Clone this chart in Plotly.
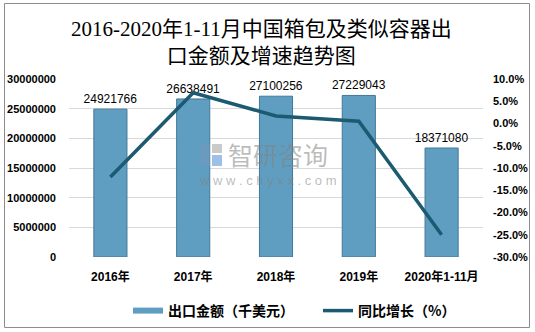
import plotly.graph_objects as go

# Export value (thousand USD) and year-on-year growth (%)
categories = ["2016年", "2017年", "2018年", "2019年", "2020年1-11月"]
export_value = [24921766, 26638491, 27100256, 27229043, 18371080]
yoy_growth = [-12.0, 6.9, 1.7, 0.5, -25.0]

left_ticks = [0, 5000000, 10000000, 15000000, 20000000, 25000000, 30000000]
right_ticks = [10, 5, 0, -5, -10, -15, -20, -25, -30]

W, H = 535, 332
ML, MR, MT, MB = 69, 52, 79, 75
PW, PH = W - ML - MR, H - MT - MB

BAR_COLOR = "#5f9ec0"
BAR_EDGE = "#40789a"
LINE_COLOR = "#1b5a70"
TICK_FONT = dict(family="Liberation Sans, Arial, sans-serif", size=11, color="#000000")
CJK = "Liberation Sans, Noto Sans CJK SC, sans-serif"


def px_x(v):
    return (v - ML) / PW


def px_y(v):
    return (H - MB - v) / PH


fig = go.Figure()

fig.add_trace(go.Bar(
    x=categories, y=export_value,
    marker=dict(color=BAR_COLOR, line=dict(color=BAR_EDGE, width=1)),
    width=0.4,
    text=[str(v) for v in export_value],
    textposition="outside",
    constraintext="none",
    textfont=dict(family="Liberation Sans, Arial, sans-serif", size=12, color="#000000"),
    cliponaxis=False,
    showlegend=False,
    name="出口金额（千美元）",
))

# legend swatch for the bars, drawn as a wide band
fig.add_trace(go.Scatter(
    x=[None], y=[None], mode="lines",
    line=dict(color=BAR_COLOR, width=6),
    name="<b>出口金额（千美元）</b>",
))

fig.add_trace(go.Scatter(
    x=categories, y=yoy_growth, yaxis="y2", mode="lines",
    line=dict(color=LINE_COLOR, width=3.5),
    name="<b>同比增长（%）</b>",
))

# watermark
fig.add_annotation(
    xref="paper", yref="paper", x=px_x(226), y=px_y(154), xanchor="left", yanchor="middle",
    text="智研咨询", showarrow=False,
    font=dict(family="Noto Sans CJK SC", size=25, color="rgba(130,130,130,0.55)"),
)
fig.add_annotation(
    xref="paper", yref="paper", x=px_x(268), y=px_y(180), xanchor="center", yanchor="middle",
    text="w w w . c h y x x . c o m", showarrow=False,
    font=dict(family="Liberation Sans, Arial", size=13, color="rgba(130,130,130,0.55)"),
)
fig.add_shape(type="rect", xref="paper", yref="paper",
              x0=px_x(200), x1=px_x(210), y0=px_y(166), y1=px_y(144),
              line=dict(width=0), fillcolor="rgba(120,150,190,0.5)")
fig.add_shape(type="rect", xref="paper", yref="paper",
              x0=px_x(212), x1=px_x(222), y0=px_y(166), y1=px_y(155),
              line=dict(width=0), fillcolor="rgba(80,140,210,0.55)")
fig.add_shape(type="rect", xref="paper", yref="paper",
              x0=px_x(212), x1=px_x(222), y0=px_y(153), y1=px_y(144),
              line=dict(width=0), fillcolor="rgba(150,150,150,0.5)")

# outer frame
fig.add_shape(type="rect", xref="paper", yref="paper",
              x0=px_x(4.5), x1=px_x(529.5), y0=px_y(327.5), y1=px_y(3.5),
              line=dict(color="#8c8c8c", width=1), layer="below")

# two-line title
fig.add_annotation(
    xref="paper", yref="paper", x=px_x(261), y=px_y(43), xanchor="center", yanchor="middle",
    text="2016-2020年1-11月中国箱包及类似容器出<br>口金额及增速趋势图", showarrow=False,
    font=dict(family="Liberation Serif, Noto Sans CJK SC, serif", size=21, color="#000000"),
)

fig.update_layout(
    width=W, height=H,
    margin=dict(l=ML, r=MR, t=MT, b=MB, autoexpand=False),
    paper_bgcolor="#ffffff", plot_bgcolor="#ffffff",
    bargap=0.6,
    xaxis=dict(
        tickfont=dict(family=CJK, size=12, color="#000000"),
        tickprefix="<b>", ticksuffix="</b>",
        showline=False, showgrid=False, ticks="", ticklen=0,
        ticklabelstandoff=11,
        range=[-0.5, 4.5],
    ),
    yaxis=dict(
        range=[0, 30000000], tickvals=left_ticks,
        ticktext=[f"<b>{v}</b>" for v in left_ticks],
        tickfont=TICK_FONT, showgrid=True, gridcolor="#d9d9d9", gridwidth=1,
        zeroline=False, showline=False, ticklabelstandoff=12,
    ),
    yaxis2=dict(
        overlaying="y", side="right", range=[-30, 10], tickvals=right_ticks,
        ticktext=[f"<b>{v:.1f}%</b>" for v in right_ticks],
        tickfont=TICK_FONT, showgrid=False, zeroline=False, showline=False,
        ticklabelstandoff=9,
    ),
    legend=dict(
        orientation="h", x=128 / W, xanchor="left", xref="container",
        y=1 - 311 / H, yanchor="middle", yref="container",
        font=dict(family="Noto Sans CJK SC", size=14, color="#000000"),
        itemwidth=30, entrywidth=145, traceorder="normal",
    ),
)

fig.write_html("out.html")
